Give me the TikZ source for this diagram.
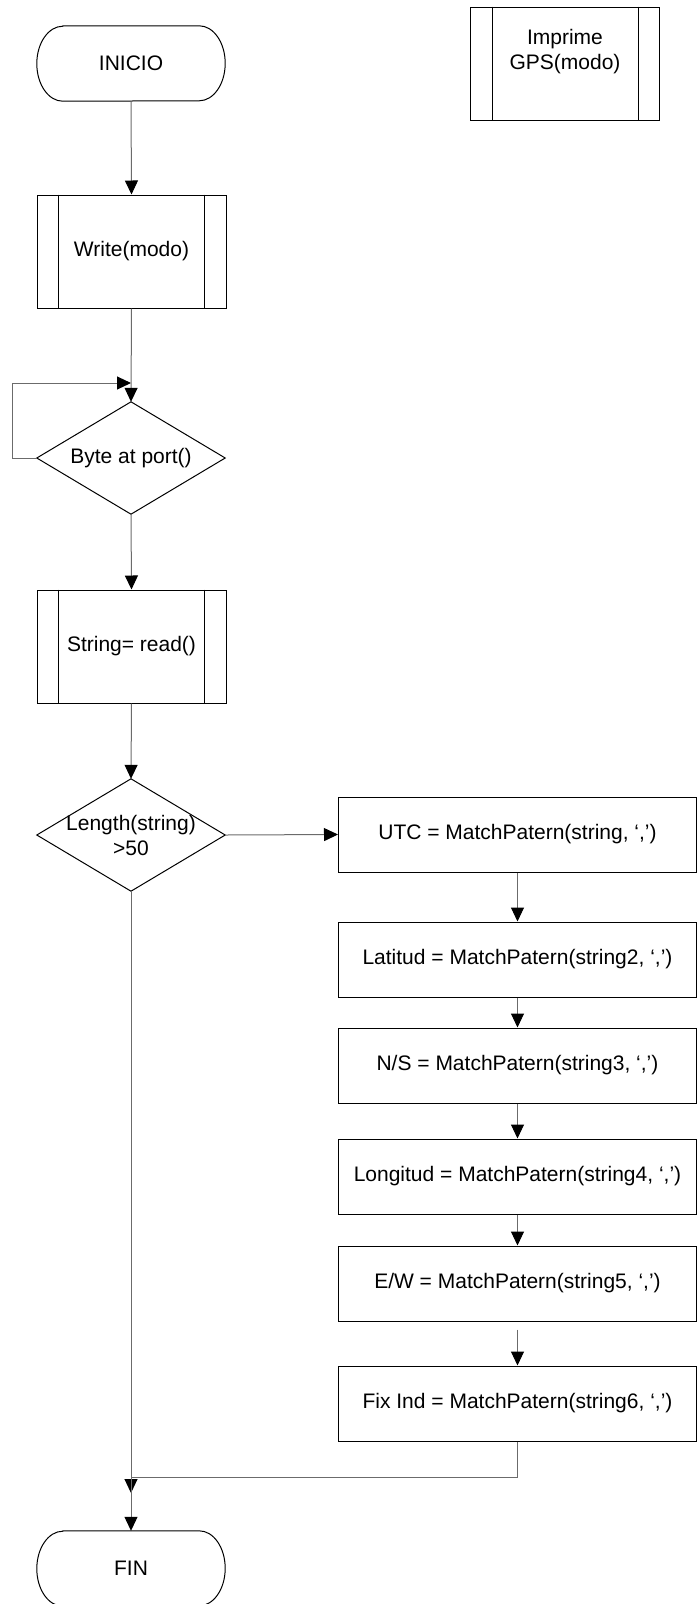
\documentclass[tikz,border=0pt]{standalone}
\usepackage{fontspec}
\setmainfont{Liberation Sans}
\usetikzlibrary{arrows.meta}
\definecolor{ln}{gray}{0.42}
\begin{document}
\begin{tikzpicture}[x=1pt,y=-1pt,
  every node/.style={font=\fontsize{21}{25}\selectfont, align=center, inner sep=0pt},
  shp/.style={draw=black, line width=1pt},
  proc/.style={shp, minimum width=358pt, minimum height=75pt},
  subr/.style={shp, minimum width=189pt, minimum height=113pt},
  decframe/.style={minimum width=188pt, minimum height=112pt},
  termframe/.style={minimum width=188pt, minimum height=75pt},
  conn/.style={draw=ln, line width=1pt, -{Triangle[length=14pt,width=13pt,color=black]}},
  plain/.style={draw=ln, line width=1pt}
]
\useasboundingbox (0,0) rectangle (697,1604);

% nodes
\node[termframe] (ini) at (131,63.5) {INICIO};
\node[subr] (gps) at (565,63.5) {};
\node (gpstxt) at (565,52) {Imprime\\GPS(modo)};
\node[subr] (wr) at (131.5,251.5) {Write(modo)};
\node[decframe] (d1) at (131,458) {Byte at port()};
\node[subr] (rd) at (131.5,646.5) {String= read()};
\node[decframe] (d2) at (131,835) {Length(string)\\>50};
\node[proc] (utc) at (517.5,834.5) {UTC = MatchPatern(string, ‘,’)};
\node[proc] (lat) at (517.5,959.5) {Latitud = MatchPatern(string2, ‘,’)};
\node[proc] (ns) at (517.5,1065.5) {N/S = MatchPatern(string3, ‘,’)};
\node[proc] (lon) at (517.5,1176.5) {Longitud = MatchPatern(string4, ‘,’)};
\node[proc] (ew) at (517.5,1283.5) {E/W = MatchPatern(string5, ‘,’)};
\node[proc] (fix) at (517.5,1403.5) {Fix Ind = MatchPatern(string6, ‘,’)};
\node[termframe] (fin) at (131,1568.5) {FIN};

% shape outlines
\foreach \n in {ini,fin} {
  \draw[shp] ([xshift=26pt]\n.north west) -- ([xshift=-26pt]\n.north east)
    arc[start angle=90,end angle=-90,x radius=26pt,y radius=37.5pt]
    -- ([xshift=26pt]\n.south west)
    arc[start angle=270,end angle=90,x radius=26pt,y radius=37.5pt] -- cycle;
}
\foreach \n in {wr,rd,gps} {
  \draw[shp] ([xshift=22pt]\n.north west) -- ([xshift=22pt]\n.south west);
  \draw[shp] ([xshift=-22pt]\n.north east) -- ([xshift=-22pt]\n.south east);
}
\foreach \n in {d1,d2} {
  \draw[shp] (\n.north) -- (\n.east) -- (\n.south) -- (\n.west) -- cycle;
}

% connectors
\coordinate (looptip) at (131,383);
\coordinate (mrg) at (131,1477);
\coordinate (jn) at (131,1493);
\draw[conn] (ini.south) -- (wr.north);
\draw[conn] (wr.south) -- (d1.north);
\draw[conn] (d1.west) -- ++(-24,0) |- (looptip);
\draw[conn] (d1.south) -- (rd.north);
\draw[conn] (rd.south) -- (d2.north);
\draw[conn] (d2.east) -- (utc.west);
\draw[conn] (utc.south) -- (lat.north);
\draw[conn] (lat.south) -- (ns.north);
\draw[conn] (ns.south) -- (lon.north);
\draw[conn] (lon.south) -- (ew.north);
\draw[conn, shorten <=8pt] (ew.south) -- (fix.north);
\draw[conn] (d2.south) -- (jn);
\draw[conn] (fix.south) |- (mrg) -- (fin.north);
\end{tikzpicture}
\end{document}
